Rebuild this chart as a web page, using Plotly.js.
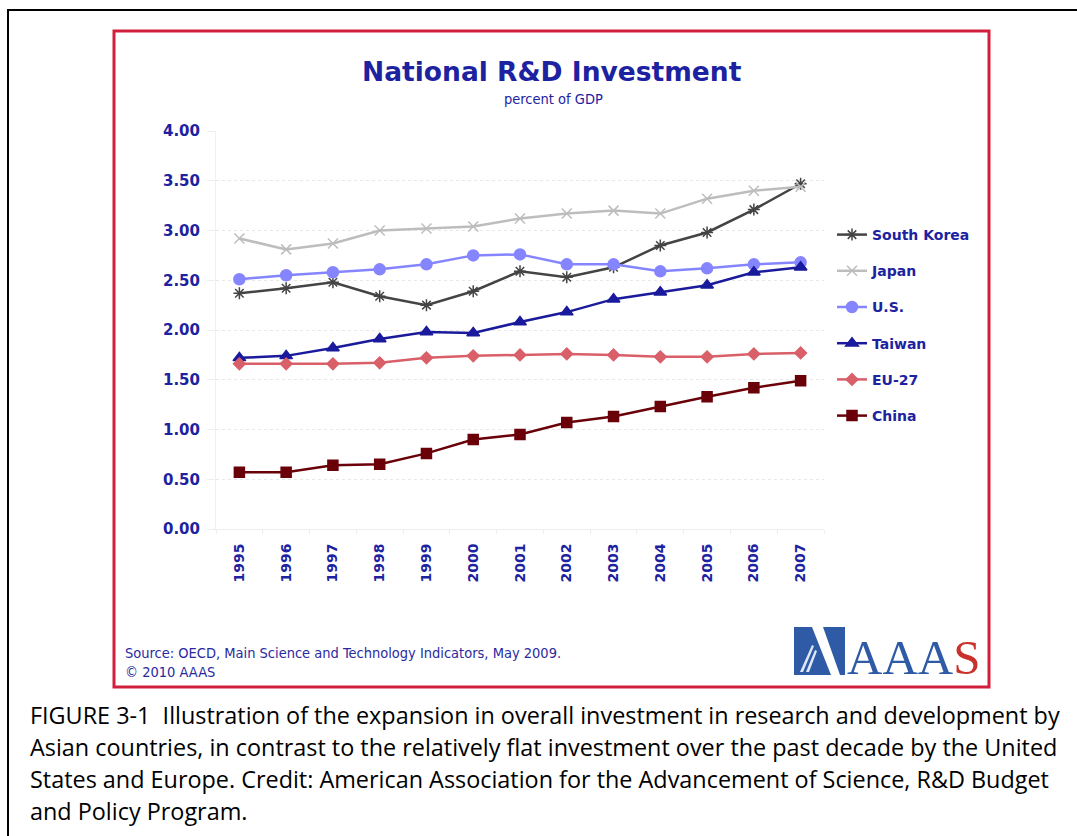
<!DOCTYPE html>
<html>
<head>
<meta charset="utf-8">
<script src="https://cdn.plot.ly/plotly-3.0.1.min.js"></script>
<style>
  html, body { margin: 0; padding: 0; background: #fff; }
  #chart { width: 1077px; height: 836px; }
</style>
</head>
<body>
<div id="chart"></div>
<script>
// years on the category axis
var years = ['1995', '1996', '1997', '1998', '1999', '2000', '2001',
             '2002', '2003', '2004', '2005', '2006', '2007'];

// R&D spending, percent of GDP
var southKorea = [2.37, 2.42, 2.48, 2.34, 2.25, 2.39, 2.59, 2.53, 2.63, 2.85, 2.98, 3.21, 3.47];
var japan      = [2.92, 2.81, 2.87, 3.00, 3.02, 3.04, 3.12, 3.17, 3.20, 3.17, 3.32, 3.40, 3.44];
var us         = [2.51, 2.55, 2.58, 2.61, 2.66, 2.75, 2.76, 2.66, 2.66, 2.59, 2.62, 2.66, 2.68];
var taiwan     = [1.72, 1.74, 1.82, 1.91, 1.98, 1.97, 2.08, 2.18, 2.31, 2.38, 2.45, 2.58, 2.63];
var eu27       = [1.66, 1.66, 1.66, 1.67, 1.72, 1.74, 1.75, 1.76, 1.75, 1.73, 1.73, 1.76, 1.77];
var china      = [0.57, 0.57, 0.64, 0.65, 0.76, 0.90, 0.95, 1.07, 1.13, 1.23, 1.33, 1.42, 1.49];

var yTicks = [0, 0.5, 1, 1.5, 2, 2.5, 3, 3.5, 4];

var captionLines = [
    'FIGURE 3-1  Illustration of the expansion in overall investment in research and development by',
    'Asian countries, in contrast to the relatively flat investment over the past decade by the United',
    'States and Europe. Credit: American Association for the Advancement of Science, R&D Budget',
    'and Policy Program.'
];

// plot area in page pixels, used to place the decorations in paper units
var L = 216, R = 824, T = 131, B = 529;
function px(X) { return (X - L) / (R - L); }
function py(Y) { return (B - Y) / (B - T); }

var navy = '#1c22a0';

function series(name, values, color, symbol, size, group) {
    return {
        x: years,
        y: values,
        name: name,
        legendgroup: group,
        type: 'scatter',
        mode: 'lines+markers',
        line: {color: color, width: 2.5},
        marker: {color: color, symbol: symbol, size: size,
                 line: {color: color, width: 1.5}}
    };
}

var traces = [
    series('South Korea', southKorea, '#444444', 'asterisk-open', 10, 'a'),
    series('Japan', japan, '#bdbdbd', 'x-thin-open', 10, 'b'),
    series('U.S.', us, '#8585ff', 'circle', 11, 'c'),
    series('Taiwan', taiwan, '#1a1a9c', 'triangle-up', 11, 'd'),
    series('EU-27', eu27, '#d95f68', 'diamond', 9, 'e'),
    series('China', china, '#6a0008', 'square', 10, 'f')
];

var annotations = [
    {text: '<b>National R&D Investment</b>', x: px(552), y: py(71),
     font: {family: 'DejaVu Sans', size: 26.5, color: navy}},
    {text: 'percent of GDP', x: px(553), y: py(99),
     font: {family: 'DejaVu Sans Condensed', size: 14.5, color: navy}},
    {text: 'Source: OECD, Main Science and Technology Indicators, May 2009.',
     x: px(123), y: py(653), xanchor: 'left',
     font: {family: 'DejaVu Sans Condensed', size: 14.5, color: '#2a2aa0'}},
    {text: '© 2010 AAAS', x: px(123), y: py(672), xanchor: 'left',
     font: {family: 'DejaVu Sans Condensed', size: 14.5, color: '#2a2aa0'}},
    {text: 'AAA<span style="color:#c9312b">S</span>', x: px(845), y: py(657),
     xanchor: 'left',
     font: {family: 'Liberation Serif', size: 49, color: '#2f5ba6'}}
];
captionLines.forEach(function (line, i) {
    annotations.push({
        text: line, x: px(28), y: py(715 + i * 32), xanchor: 'left',
        font: {family: 'Open Sans', size: 23.4, color: '#000'}
    });
});
annotations.forEach(function (a) {
    a.xref = 'paper';
    a.yref = 'paper';
    a.showarrow = false;
    if (!a.xanchor) a.xanchor = 'center';
    a.yanchor = 'middle';
});

function rect(x0, y0, x1, y1, color, width) {
    return {type: 'rect', xref: 'paper', yref: 'paper',
            x0: px(x0), x1: px(x1), y0: py(y0), y1: py(y1),
            line: {color: color, width: width}};
}
function poly(points, color) {
    var d = points.map(function (p, i) {
        return (i ? 'L' : 'M') + px(p[0]) + ',' + py(p[1]);
    }).join(' ') + ' Z';
    return {type: 'path', xref: 'paper', yref: 'paper', path: d,
            fillcolor: color, line: {width: 0}};
}

var shapes = [
    rect(8, 10, 1095, 850, '#000', 2),
    rect(114, 31, 989, 687, '#d21f3c', 3),
    // AAAS mark
    poly([[794, 627], [812, 627], [831, 675], [794, 675]], '#2f5ba6'),
    poly([[823, 627], [845, 627], [845, 675], [840, 675]], '#2f5ba6'),
    poly([[800, 672], [812, 645], [814, 646], [803, 672]], '#dfe8f5'),
    poly([[806, 672], [815, 650], [817, 651], [809, 672]], '#dfe8f5')
];

var layout = {
    width: 1077,
    height: 836,
    margin: {l: L, r: 1077 - R, t: T, b: 836 - B, pad: 0},
    paper_bgcolor: '#fff',
    plot_bgcolor: '#fff',
    showlegend: true,
    legend: {
        x: px(832), y: py(219), xanchor: 'left', yanchor: 'top',
        font: {family: 'DejaVu Sans', size: 14, color: navy, weight: 'bold'},
        tracegroupgap: 15, itemwidth: 30, bgcolor: 'rgba(0,0,0,0)'
    },
    xaxis: {
        type: 'category',
        range: [-0.5, 12.5],
        tickangle: -90,
        tickson: 'boundaries',
        ticks: 'outside', ticklen: 4, tickcolor: '#eeeeee',
        ticklabelstandoff: 8,
        showgrid: false,
        showline: true, linecolor: '#eeeeee', linewidth: 1,
        zeroline: false,
        tickfont: {family: 'DejaVu Sans', size: 14, color: navy, weight: 'bold'},
        fixedrange: true
    },
    yaxis: {
        range: [0, 4],
        tickvals: yTicks,
        tickformat: '.2f',
        ticks: 'outside', ticklen: 8, tickcolor: '#eeeeee',
        ticklabelstandoff: 4,
        showgrid: true, gridcolor: '#e8e8e8', griddash: 'dot', gridwidth: 1,
        showline: true, linecolor: '#f0f0f0', linewidth: 1,
        zeroline: false,
        tickfont: {family: 'DejaVu Sans', size: 15, color: navy, weight: 'bold'},
        fixedrange: true
    },
    annotations: annotations,
    shapes: shapes
};

Plotly.newPlot('chart', traces, layout, {displayModeBar: false, staticPlot: true});
</script>
</body>
</html>
